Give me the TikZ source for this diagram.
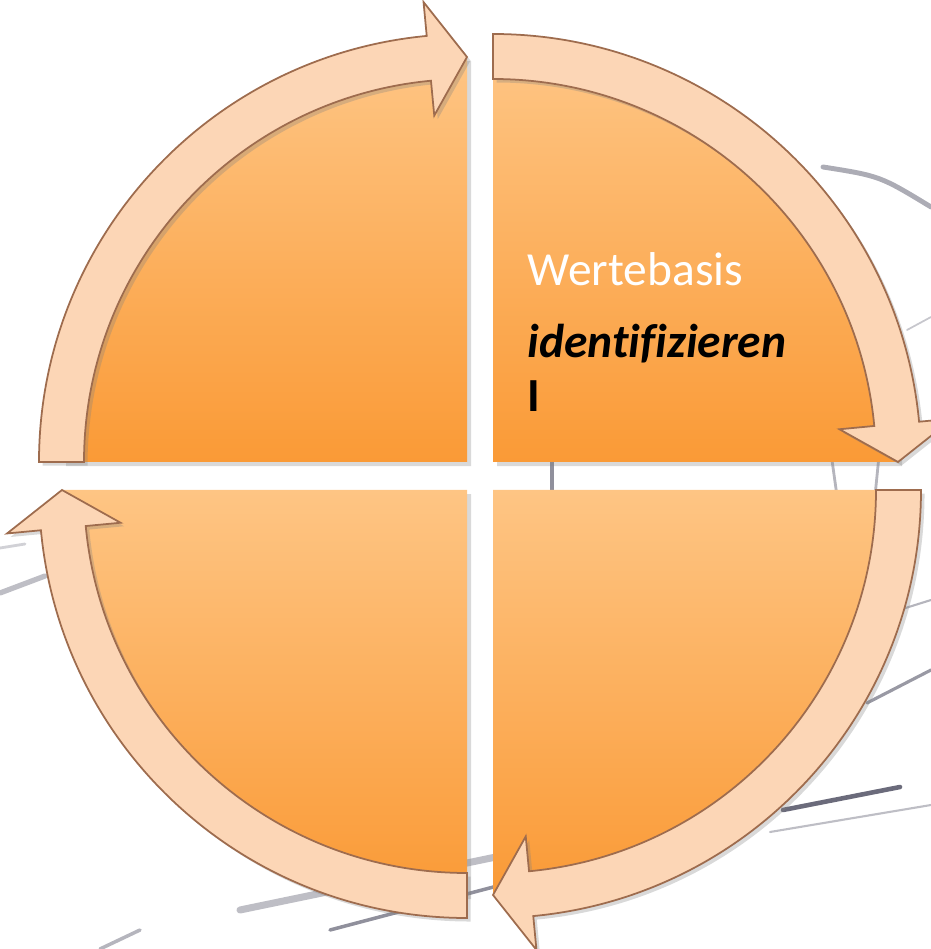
\documentclass[tikz,border=0pt]{standalone}
\usepackage{fontspec}
\setmainfont{Carlito}
\usepackage{tikz}
\usetikzlibrary{shadows}
\definecolor{quadtop}{RGB}{254,197,132}
\definecolor{quadbot}{RGB}{250,154,54}
\definecolor{bandc}{RGB}{252,214,182}
\definecolor{bandl}{RGB}{158,108,78}
\definecolor{inkc}{RGB}{70,70,90}
\tikzset{
  quad/.style={top color=quadtop,bottom color=quadbot,
    drop shadow={shadow xshift=1.2pt,shadow yshift=-1.2pt,opacity=.3}},
  band/.style={fill=bandc,draw=bandl,line width=.5pt,line join=miter,
    drop shadow={shadow xshift=1pt,shadow yshift=-1pt,opacity=.3}},
  scribble/.style={draw=inkc,line cap=round,opacity=.55},
  lbl/.style={anchor=base west,inner sep=0pt,font=\fontsize{13.5}{16}\selectfont}
}

\begin{document}
\begin{tikzpicture}[x=0.01cm,y=0.01cm]
\useasboundingbox (-480,-473) rectangle (451,476);
% sketchy strokes behind the circle
\draw[scribble,line width=1.4pt,opacity=.45] (343,309) .. controls (400,300) .. (451,269);
\draw[scribble,line width=.5pt,opacity=.3] (427,146) -- (451,159);
\draw[scribble,line width=.6pt,opacity=.4] (400,-140) -- (451,-124);
\draw[scribble,line width=.9pt] (387,-227) -- (451,-194);
\draw[scribble,line width=1.3pt,opacity=.8] (303,-334) -- (420,-311);
\draw[scribble,line width=.6pt,opacity=.35] (290,-356) -- (451,-329);
\draw[scribble,line width=2pt,opacity=.35] (-240,-434) -- (40,-376);
\draw[scribble,line width=1pt,opacity=.6] (-150,-454) -- (40,-404);
\draw[scribble,line width=1pt,opacity=.4] (-380,-473) -- (-340,-454);
\draw[scribble,line width=1.5pt,opacity=.35] (-480,-117) -- (-435,-100);
\draw[scribble,line width=.8pt,opacity=.25] (-480,-72) -- (-455,-68);
\draw[scribble,line width=1pt,opacity=.6] (72,30) -- (72,-20);
\draw[scribble,line width=.8pt,opacity=.4] (350,30) -- (357,-20);
\draw[scribble,line width=.8pt,opacity=.4] (400,30) -- (395,-20);
% quadrants with their arrows, clockwise
\foreach \cx/\cy/\ae [evaluate=\ae as \as using \ae+90, evaluate=\ae as \ab using \ae+5.4]
    in {-13/14/90, 13/14/0, 13/-14/-90, -13/-14/-180} {
  \begin{scope}[shift={(\cx,\cy)}]
    \shade[quad] (0,0) -- (\as:405) arc[start angle=\as,end angle=\ae,radius=405] -- cycle;
    \path[band] (\as:383) -- (\as:428) arc[start angle=\as,end angle=\ab,radius=428]
      -- (\ab:462) -- (\ae:405) -- (\ab:348) -- (\ab:383)
      arc[start angle=\ab,end angle=\as,radius=383] -- cycle;
  \end{scope}
}
% text in the upper right quadrant
\node[lbl,text=white] (wert) at (47,190) {Wertebasis};
\node[lbl] (ident) at (47,118) {\addfontfeature{Ligatures=NoCommon}\textbf{\textit{identifizieren}}};
\node[lbl] (eins) at (47,64) {\textbf{I}};
\end{tikzpicture}
\end{document}
